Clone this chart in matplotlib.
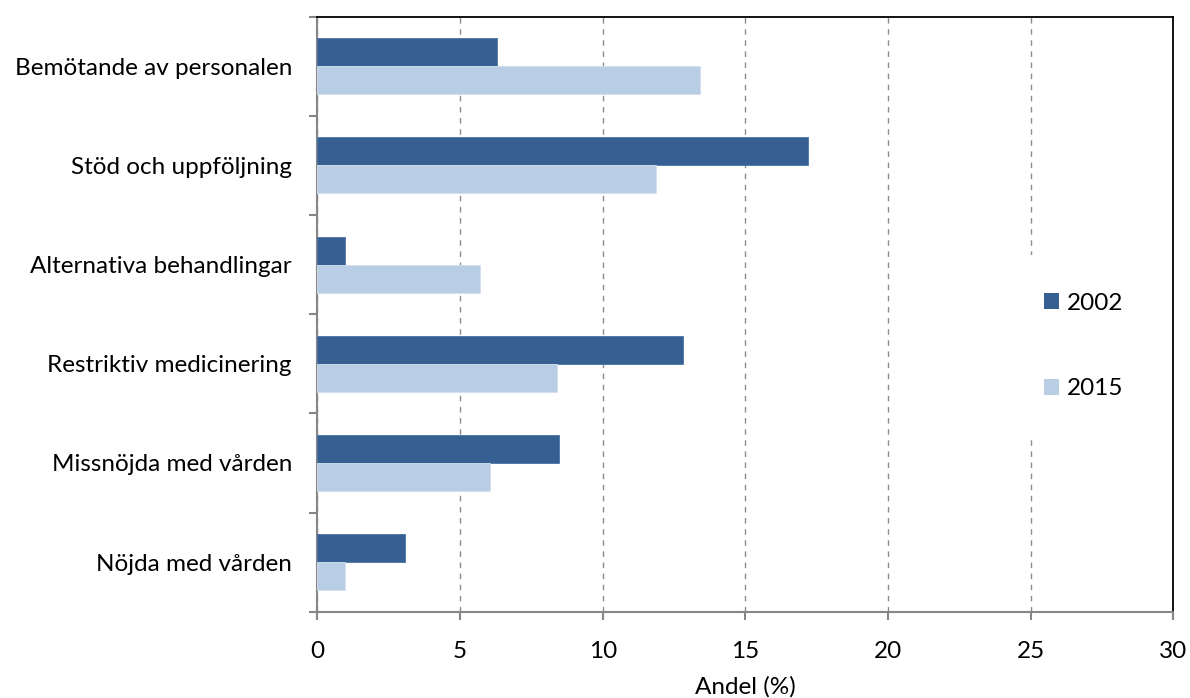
#!/usr/bin/env python3
"""Horizontal grouped bars: share (%) per category, 2002 vs 2015."""

import matplotlib.pyplot as plt
import numpy as np
from matplotlib.patches import Patch, Rectangle

CATEGORIES = [
    "Bemötande av personalen",
    "Stöd och uppföljning",
    "Alternativa behandlingar",
    "Restriktiv medicinering",
    "Missnöjda med vården",
    "Nöjda med vården",
]
VALUES_2002 = [6.3, 17.2, 0.95, 12.8, 8.45, 3.05]
VALUES_2015 = [13.4, 11.85, 5.7, 8.4, 6.05, 0.95]
SERIES = ["2002", "2015"]
X_TICKS = [0, 5, 10, 15, 20, 25, 30]

DARK = "#366092"
LIGHT = "#B9CDE5"
AXIS_GREY = "#868686"

plt.rcParams.update(
    {
        "font.family": ["Lato", "DejaVu Sans"],
        "font.size": 17.5,
    }
)

fig = plt.figure(figsize=(11.9, 6.98), dpi=100)
ax = fig.add_axes([0.2668, 0.1236, 0.7193, 0.8525])

y = np.arange(len(CATEGORIES))
h = 0.282
ax.barh(y - h / 2, VALUES_2002, height=h, color=DARK, edgecolor="#4a74a6",
        linewidth=0.6, zorder=3)
ax.barh(y + h / 2, VALUES_2015, height=h, color=LIGHT, edgecolor="#d3e0ef",
        linewidth=0.6, zorder=3)

ax.set_xlim(0, 30)
ax.set_ylim(len(CATEGORIES) - 0.5, -0.5)

# category labels on minor ticks, boundary ticks on major ticks (Excel style)
ax.set_yticks(np.arange(len(CATEGORIES) + 1) - 0.5)
ax.set_yticklabels([])
ax.set_yticks(y, minor=True)
ax.set_yticklabels(CATEGORIES, minor=True)
ax.tick_params(axis="y", which="major", length=6, width=1.5, color=AXIS_GREY,
               direction="out")
ax.tick_params(axis="y", which="minor", length=0, pad=18.4)

ax.set_xticks(X_TICKS)
ax.set_xticklabels([str(t) for t in X_TICKS])
ax.tick_params(axis="x", length=6, width=1.5, color=AXIS_GREY, pad=15)

ax.xaxis.grid(True, linestyle=(0, (4, 4)), color="#8c8c8c", linewidth=1.0,
              zorder=0)
ax.set_axisbelow(True)

for side in ("left", "bottom"):
    ax.spines[side].set_color(AXIS_GREY)
    ax.spines[side].set_linewidth(1.5)
for side in ("top", "right"):
    ax.spines[side].set_color("black")
    ax.spines[side].set_linewidth(1.3)

ax.set_xlabel("Andel (%)", labelpad=10.5)

# white legend area hiding the gridline behind it
ax.add_patch(Rectangle((0.8076, 0.292), 0.1737, 0.3075, transform=ax.transAxes,
                       facecolor="white", edgecolor="none", zorder=2))

handles = [Patch(facecolor=DARK, edgecolor="none"),
           Patch(facecolor=LIGHT, edgecolor="none")]
leg = ax.legend(
    handles, SERIES,
    loc="center", bbox_to_anchor=(0.895, 0.4466),
    frameon=False, handlelength=0.62, handleheight=0.62,
    handletextpad=0.29, labelspacing=2.66, borderpad=1.0,
)
leg.set_zorder(5)

fig.savefig("out.png", dpi=100)
